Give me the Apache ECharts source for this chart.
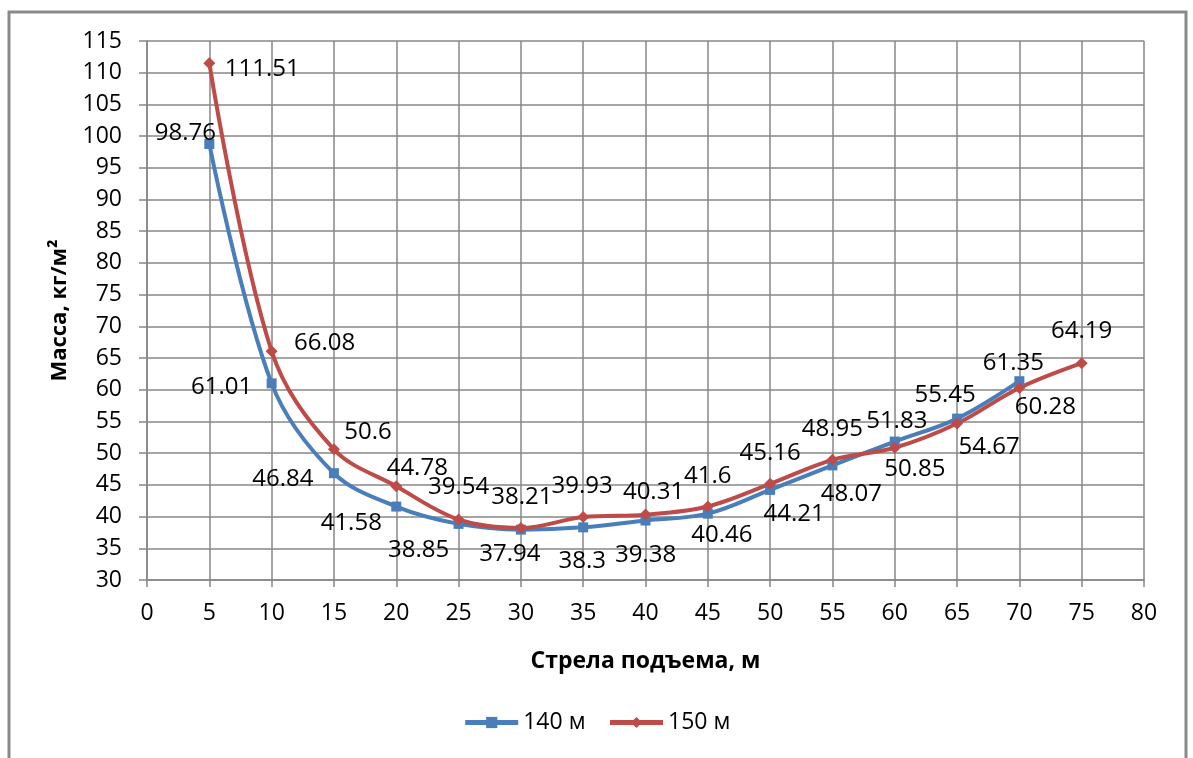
<!DOCTYPE html>
<html>
<head>
<meta charset="utf-8">
<script src="https://cdn.jsdelivr.net/npm/echarts@6/dist/echarts.min.js"></script>
<style>
  html, body { margin: 0; padding: 0; background: #fff; }
  #chart { width: 1193px; height: 758px; }
</style>
</head>
<body>
<div id="chart"></div>
<script>
// данные
var seriesNames = ['140 м', '150 м'];
var xs140 = [5, 10, 15, 20, 25, 30, 35, 40, 45, 50, 55, 60, 65, 70];
var mass140 = [98.76, 61.01, 46.84, 41.58, 38.85, 37.94, 38.3, 39.38, 40.46, 44.21, 48.07, 51.83, 55.45, 61.35];
var xs150 = [5, 10, 15, 20, 25, 30, 35, 40, 45, 50, 55, 60, 65, 70, 75];
var mass150 = [111.51, 66.08, 50.6, 44.78, 39.54, 38.21, 39.93, 40.31, 41.6, 45.16, 48.95, 50.85, 54.67, 60.28, 64.19];

// сдвиг подписей относительно точки (px)
var shift140 = [[-24, -11], [-50, 4], [-51, 6], [-45, 17], [-40, 26], [-11, 25], [-1, 34], [0, 35],
  [14, 21], [24, 24], [19, 29], [2, -20], [-12, -23], [-6, -18]];
var shift150 = [[53, 6], [53, -8], [34, -17], [21, -18], [0, -32], [1, -31], [-1, -31], [8, -22],
  [0, -30], [0, -31], [0, -31], [20, 21], [32, 24], [26, 19], [0, -32]];

var FONT = '"Open Sans", "Noto Sans", sans-serif';
var gridColor = '#878787';

function buildData(xs, ys, shifts) {
  return xs.map(function (x, i) {
    return {
      value: [x, ys[i]],
      label: { offset: shifts[i] }
    };
  });
}

var chart = echarts.init(document.getElementById('chart'), null, { renderer: 'canvas' });

var labelStyle = {
  show: true,
  position: 'inside',
  color: '#000',
  fontFamily: FONT,
  fontSize: 24
};

var option = {
  backgroundColor: '#fff',
  animation: false,
  color: ['#4a7ebb', '#be4b48'],
  graphic: [{
    type: 'rect',
    shape: { x: 9, y: 12, width: 1177, height: 780 },
    style: { fill: 'none', stroke: '#8a8a8a', lineWidth: 3 },
    silent: true
  }],
  grid: {
    left: 147,
    right: 49,
    top: 41,
    bottom: 178
  },
  legend: {
    bottom: 19,
    left: 'center',
    itemWidth: 53,
    itemHeight: 14,
    itemGap: 22,
    lineStyle: { width: 5 },
    textStyle: { fontFamily: FONT, fontSize: 23, color: '#000' },
    data: seriesNames
  },
  xAxis: {
    type: 'value',
    min: 0,
    max: 80,
    interval: 5,
    name: 'Стрела подъема, м',
    nameLocation: 'middle',
    nameGap: 70,
    nameTextStyle: { fontFamily: FONT, fontSize: 23, fontWeight: 'bold', color: '#000' },
    axisLine: { show: true, onZero: false, lineStyle: { color: gridColor, width: 1.5 } },
    axisTick: { show: true, length: 7, lineStyle: { color: gridColor, width: 1.5 } },
    axisLabel: { fontFamily: FONT, fontSize: 23, color: '#000', margin: 22 },
    splitLine: { show: true, lineStyle: { color: gridColor, width: 1.5 } }
  },
  yAxis: {
    type: 'value',
    min: 30,
    max: 115,
    interval: 5,
    name: 'Масса, кг/м²',
    nameLocation: 'middle',
    nameGap: 76,
    nameTextStyle: { fontFamily: FONT, fontSize: 22, fontWeight: 'bold', color: '#000' },
    axisLine: { show: true, lineStyle: { color: gridColor, width: 1.5 } },
    axisTick: { show: true, length: 8, lineStyle: { color: gridColor, width: 1.5 } },
    axisLabel: { fontFamily: FONT, fontSize: 23, color: '#000', margin: 25 },
    splitLine: { show: true, lineStyle: { color: gridColor, width: 1.5 } }
  },
  series: [{
    name: seriesNames[0],
    type: 'line',
    smooth: 0.35,
    symbol: 'rect',
    symbolSize: 10,
    lineStyle: { width: 4 },
    label: labelStyle,
    data: buildData(xs140, mass140, shift140)
  }, {
    name: seriesNames[1],
    type: 'line',
    smooth: 0.35,
    symbol: 'diamond',
    symbolSize: 12,
    lineStyle: { width: 4 },
    label: labelStyle,
    data: buildData(xs150, mass150, shift150)
  }]
};

chart.setOption(option);
</script>
</body>
</html>
